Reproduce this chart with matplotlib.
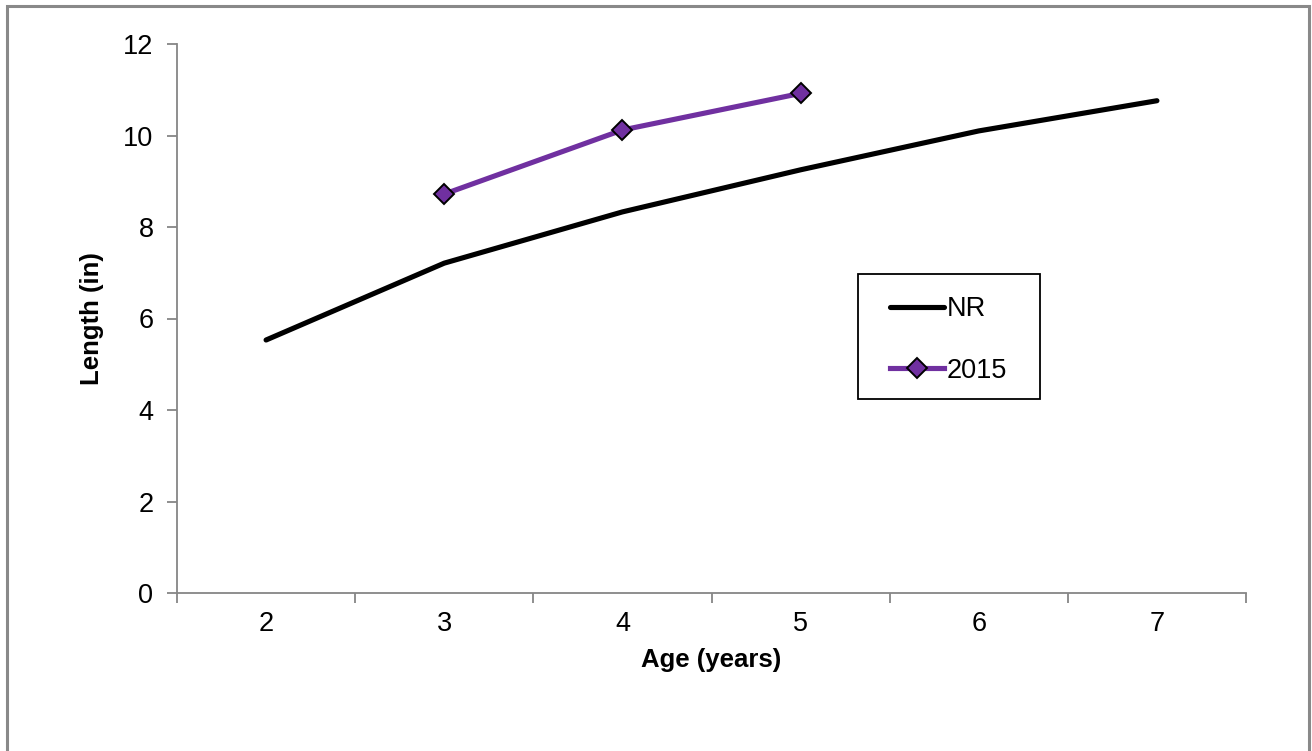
import matplotlib.pyplot as plt
from matplotlib.patches import Rectangle

# data
ages = [2, 3, 4, 5, 6, 7]
nr_length = [5.53, 7.21, 8.33, 9.25, 10.10, 10.76]
ages_2015 = [3, 4, 5]
length_2015 = [8.72, 10.12, 10.92]

plt.rcParams["font.family"] = ["Liberation Sans", "DejaVu Sans"]

fig = plt.figure(figsize=(13.12, 7.51), dpi=100)
ax = fig.add_axes([177 / 1312, 1 - 593 / 751, (1246 - 177) / 1312, (593 - 44) / 751])


def ax_frac(px, py):
    # pixel position in the picture -> axes fraction
    return (px - 177) / 1069, (593 - py) / 549


# outer chart-area frame (bottom edge falls outside the picture)
fig.patches.append(Rectangle((6.5 / 1312, -0.05), (1309 - 6.5) / 1312, 1.05 - 6 / 751,
                             transform=fig.transFigure, fill=False,
                             edgecolor="#898989", linewidth=2.2))

ax.plot(ages, nr_length, color="black", linewidth=3.7, label="NR",
        solid_capstyle="round")
ax.plot(ages_2015, length_2015, color="#7030A0", linewidth=3.7, label="2015",
        marker="D", markersize=10.5, markerfacecolor="#7030A0",
        markeredgecolor="black", markeredgewidth=1.4)

ax.set_xlim(1.5, 7.5)
ax.set_ylim(0, 12)
ax.set_yticks(range(0, 13, 2))
ax.set_xticks(ages)
ax.set_xticks([a + 0.5 for a in [1] + ages], minor=True)
ax.tick_params(axis="x", which="major", length=0, pad=13, labelsize=19.5)
ax.tick_params(axis="x", which="minor", length=7, color="#868686", width=1.3)
ax.tick_params(axis="y", length=7, color="#868686", width=1.3, pad=10, labelsize=19.5)

for side in ["top", "right"]:
    ax.spines[side].set_visible(False)
for side in ["left", "bottom"]:
    ax.spines[side].set_color("#868686")
    ax.spines[side].set_linewidth(1.3)

ax.set_xlabel("Age (years)", fontsize=18.5, fontweight="bold", labelpad=8)
ax.set_ylabel("Length (in)", fontsize=18.5, fontweight="bold", labelpad=14)

# legend entries without frame, box drawn separately
leg = ax.legend(loc="center left", bbox_to_anchor=ax_frac(890, 340),
                fontsize=19.5, frameon=False,
                handlelength=2.0, handletextpad=0.1, labelspacing=1.3,
                borderpad=0, borderaxespad=0)
x0, y0 = ax_frac(858, 399)
x1, y1 = ax_frac(1040, 274)
ax.add_patch(Rectangle((x0, y0), x1 - x0, y1 - y0, transform=ax.transAxes,
                       fill=False, edgecolor="black", linewidth=1.3, zorder=5))

fig.savefig("out.png", dpi=100)
